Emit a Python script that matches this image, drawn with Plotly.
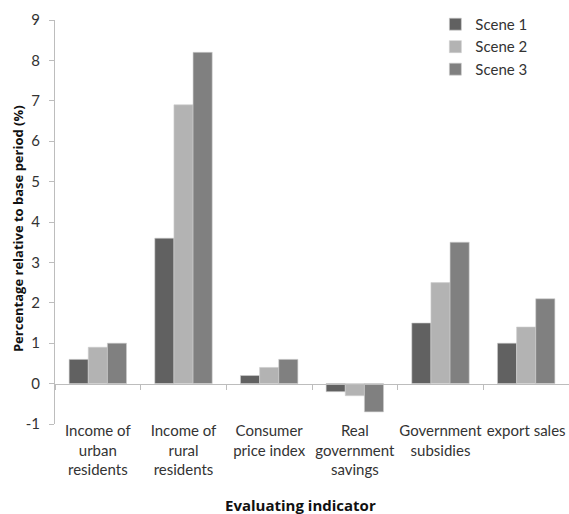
import plotly.graph_objects as go

categories = [
    "Income of<br>urban<br>residents",
    "Income of<br>rural<br>residents",
    "Consumer<br>price index",
    "Real<br>government<br>savings",
    "Government<br>subsidies",
    "export sales",
]
scene1 = [0.6, 3.6, 0.2, -0.2, 1.5, 1.0]
scene2 = [0.9, 6.9, 0.4, -0.3, 2.5, 1.4]
scene3 = [1.0, 8.2, 0.6, -0.7, 3.5, 2.1]
series_names = ["Scene 1", "Scene 2", "Scene 3"]
series_colors = ["#616161", "#b3b3b3", "#808080"]
y_ticks = list(range(-1, 10))
y_tick_text = [str(v) for v in y_ticks]  # plain hyphen for the negative label

FONT = "Lato, Calibri, 'Noto Sans', sans-serif"
TITLE_FONT = "'Open Sans', Calibri, sans-serif"
AXIS_GREY = "#bdbdbd"

fig = go.Figure()
for name, vals, col in zip(series_names, [scene1, scene2, scene3], series_colors):
    fig.add_trace(go.Bar(
        x=categories, y=vals, name=name,
        marker=dict(color=col, line=dict(color="#cfcfcf", width=0.6)),
    ))

# empty trace on the second x axis so it shares the categories
fig.add_trace(go.Bar(x=categories, y=[None] * len(categories), xaxis="x2",
                     showlegend=False, hoverinfo="skip"))

fig.update_layout(
    width=569, height=514,
    margin=dict(l=55, r=0, t=20, b=90),
    plot_bgcolor="white", paper_bgcolor="white",
    barmode="group", bargap=0.33, bargroupgap=0,
    font=dict(family=FONT, color="#333333", size=15),
    legend=dict(x=0.74, y=1.03, xanchor="left", yanchor="top",
                bgcolor="rgba(0,0,0,0)", font=dict(size=15, color="#333333"),
                itemwidth=30, tracegroupgap=0),
    xaxis=dict(
        showline=False, ticks="", showgrid=False,
        tickfont=dict(size=15, color="#333333"),
        ticklabelstandoff=-4,
        categoryorder="array", categoryarray=categories,
    ),
    xaxis2=dict(
        overlaying="x", anchor="free", position=0.1,
        showline=True, linecolor=AXIS_GREY, linewidth=1,
        ticks="outside", tickson="boundaries", ticklen=5, tickcolor=AXIS_GREY,
        showticklabels=False, showgrid=False,
        categoryorder="array", categoryarray=categories,
        matches="x",
    ),
    yaxis=dict(
        range=[-1, 9], tickvals=y_ticks, ticktext=y_tick_text,
        showgrid=False, zeroline=False,
        showline=True, linecolor=AXIS_GREY, linewidth=1,
        ticks="outside", ticklen=5, tickcolor=AXIS_GREY,
        ticklabelstandoff=6,
        tickfont=dict(size=15, color="#333333"),
    ),
    annotations=[
        dict(text="<b>Percentage relative to base period (%)</b>",
             xref="paper", yref="paper", x=-0.072, y=0.485,
             xanchor="center", yanchor="middle", textangle=-90,
             showarrow=False, font=dict(size=13, color="#111111", family=TITLE_FONT)),
        dict(text="<b>Evaluating indicator</b>",
             xref="paper", yref="paper", x=0.478, y=-0.2,
             xanchor="center", yanchor="middle",
             showarrow=False, font=dict(size=15, color="#111111", family=TITLE_FONT)),
    ],
)

fig.write_html("out.html")
